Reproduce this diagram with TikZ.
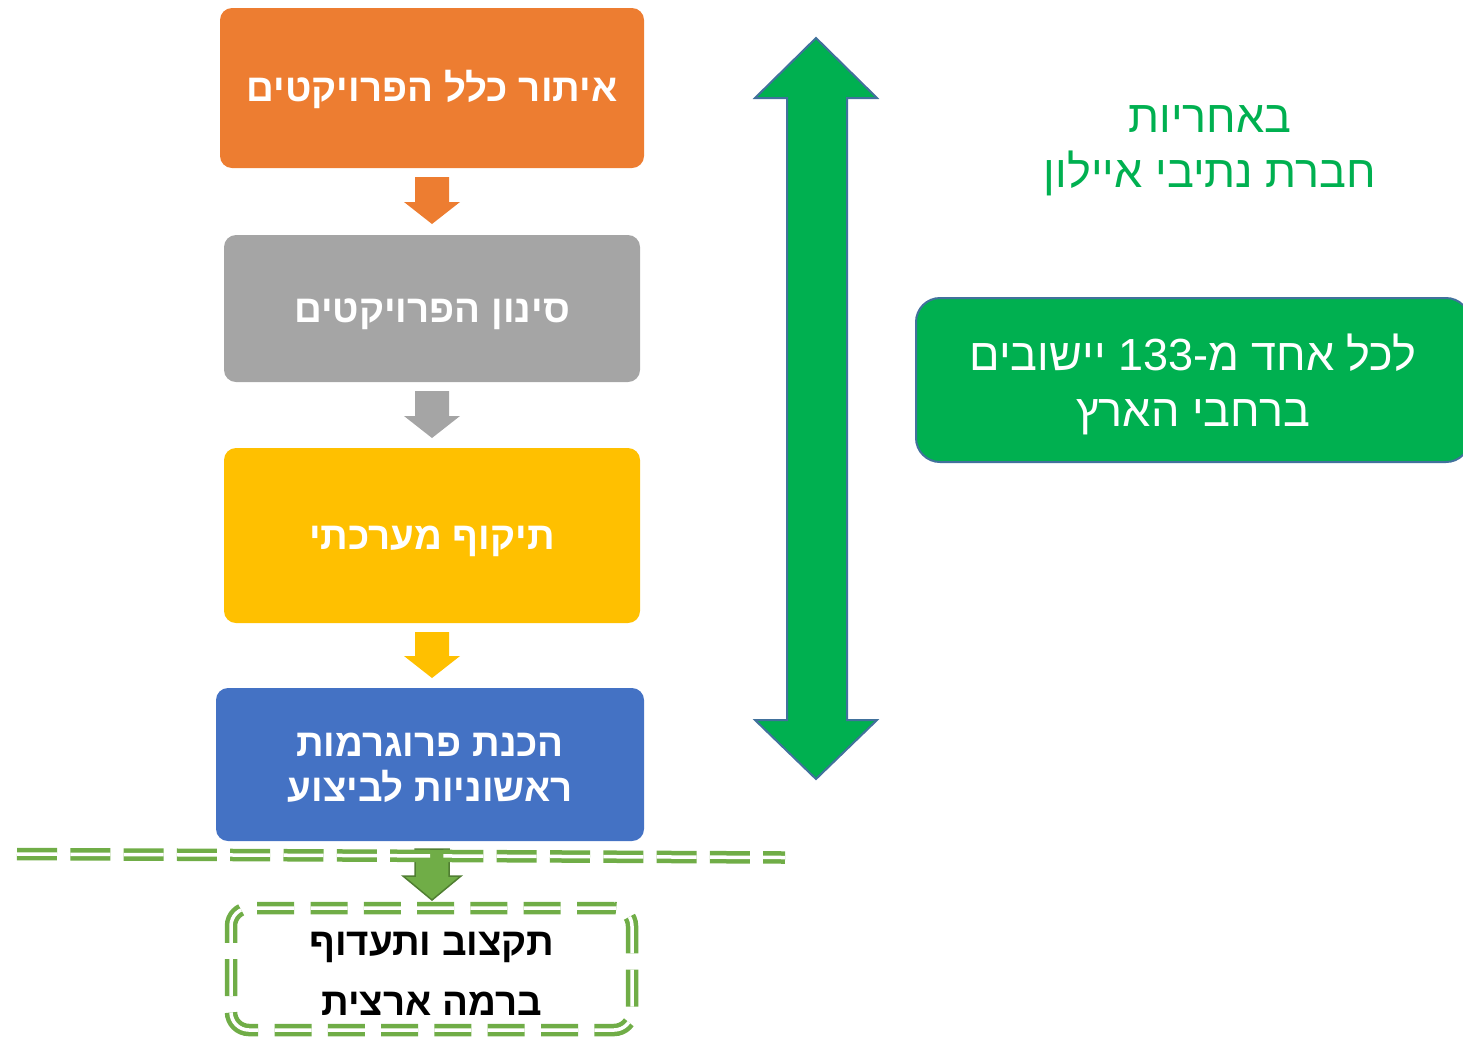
\documentclass[tikz,border=0pt]{standalone}
\usepackage{fontspec}
\setmainfont{Liberation Sans}
\newfontfamily\heb[Script=Hebrew]{Liberation Sans}
\TeXXeTstate=1
\definecolor{orng}{HTML}{ED7D31}
\definecolor{gry}{HTML}{A5A5A5}
\definecolor{yel}{HTML}{FFC000}
\definecolor{blu}{HTML}{4472C4}
\definecolor{grn}{HTML}{00B050}
\definecolor{lgrn}{HTML}{70AD47}
\definecolor{dgrn}{HTML}{507E32}
\definecolor{bord}{HTML}{41719C}
\tikzset{
  stepbox/.style={rounded corners=12pt, draw=none},
  steptext/.style={text=white, align=center, font=\heb\bfseries\fontsize{38.5}{45}\selectfont},
}
\newcommand\downblock[5]{% x, ytop, ybase, ytip, color
  \fill[#5] (#1-17,#2) -- (#1+17,#2) -- (#1+17,#3) -- (#1+28,#3) -- (#1,#4) -- (#1-28,#3) -- (#1-17,#3) -- cycle;}
\begin{document}
\begin{tikzpicture}[x=1pt,y=-1pt]
\useasboundingbox (0,0) rectangle (1463,1037);
% boxes
\node[stepbox, fill=orng, minimum width=424pt, minimum height=160pt] (b1) at (432,88) {};
\node[steptext] (t1) at ([yshift=-1pt]b1.center) {\beginR איתור כלל הפרויקטים\endR};
\node[stepbox, fill=gry, minimum width=416pt, minimum height=147pt] (b2) at (432,308.5) {};
\node[steptext] (t2) at ([yshift=-6pt]b2.center) {\beginR סינון הפרויקטים\endR};
\node[stepbox, fill=yel, minimum width=416pt, minimum height=175pt] (b3) at (432,535.5) {};
\node[steptext] (t3) at ([yshift=-6pt]b3.center) {\beginR תיקוף מערכתי\endR};
\node[stepbox, fill=blu, minimum width=428pt, minimum height=153pt] (b4) at (430,764.5) {};
\node[steptext] (t4) at ([yshift=-3.5pt]b4.center) {\beginR הכנת פרוגרמות\endR\\\beginR ראשוניות לביצוע\endR};
% small block arrows
\downblock{432}{177}{202}{224}{orng}
\downblock{432}{391}{416}{438}{gry}
\downblock{432}{632}{656}{678}{yel}
\draw[fill=lgrn, draw=dgrn, line width=1.5pt] (415,849) -- (449,849) -- (449,876) -- (461,876) -- (432,900) -- (403,876) -- (415,876) -- cycle;
% dashed double line
\coordinate (dl) at (17,854);
\coordinate (dr) at (785,857.5);
\draw[lgrn, line width=4.5pt, double=white, double distance=3.5pt, dash pattern=on 40pt off 13.3pt] (dl) -- (dr);
% bottom box
\node[draw=lgrn, line width=4.5pt, double=white, double distance=3.5pt, dash pattern=on 37pt off 16.3pt,
  rounded corners=18pt, minimum width=401pt, minimum height=122pt] (b5) at (431.5,969) {};
\node[align=center, font=\heb\bfseries\fontsize{38.5}{60}\selectfont] (t5) at ([yshift=-5pt]b5.center)
  {\beginR תקצוב ותעדוף\endR\\\beginR ברמה ארצית\endR};
% green double arrow
\draw[fill=grn, draw=bord, line width=2pt, line join=miter]
  (816,38) -- (877,98) -- (847,98) -- (847,720) -- (877,720) -- (816,779)
  -- (755,720) -- (787,720) -- (787,98) -- (755,98) -- cycle;
% green text
\node[text=grn, align=center, font=\heb\fontsize{45}{55}\selectfont] (resp) at (1210,151)
  {\beginR באחריות\endR\\\beginR חברת נתיבי איילון\endR};
% right box
\node[draw=bord, line width=2pt, fill=grn, rounded corners=24pt, minimum width=554pt, minimum height=164pt] (rb) at (1193,380) {};
\node[text=white, align=center, font=\heb\fontsize{45}{56}\selectfont] (rt) at ([yshift=-4pt]rb.center)
  {\beginR לכל אחד מ-\beginL 133\endL{} יישובים\endR\\\beginR ברחבי הארץ\endR};
\end{tikzpicture}
\end{document}
